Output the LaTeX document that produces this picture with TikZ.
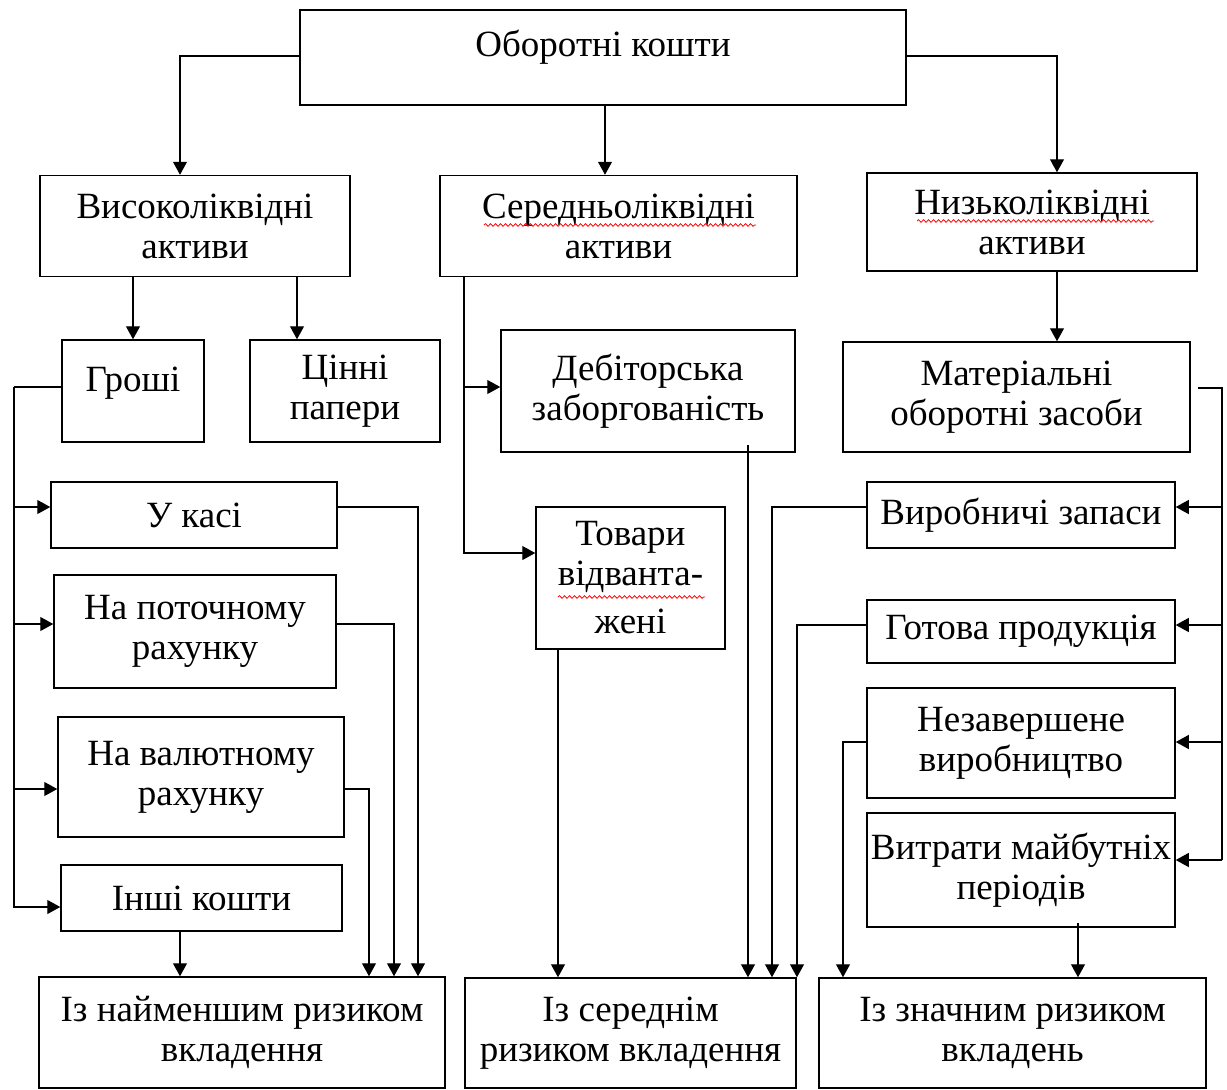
\documentclass[tikz,border=0pt]{standalone}
\usepackage{fontspec}
\setmainfont{Liberation Serif}
\usetikzlibrary{arrows.meta,decorations.pathmorphing}
\begin{document}
\begin{tikzpicture}[x=1pt,y=-1pt,
  box/.style={draw, line width=1.5pt, inner sep=0pt, align=center,
    font=\fontsize{37}{40}\selectfont},
  arr/.style={line width=1.2pt, -{Triangle[length=13pt,width=14pt]}},
  ln/.style={line width=1.2pt},
  wavy/.style={red, line width=0.8pt, decorate,
    decoration={snake, amplitude=1.3pt, segment length=5pt}}]
\useasboundingbox (0,0) rectangle (1227,1090);
% boxes
\node[box, minimum width=606, minimum height=95] (obor) at (603,57.5) {Оборотні кошти\\[-24pt]\strut};
\node[box, minimum width=310, minimum height=101] (viso) at (195,226) {Високоліквідні\\активи};
\node[box, minimum width=357, minimum height=101] (sered) at (618.5,226) {Середньоліквідні\\активи};
\node[box, minimum width=330, minimum height=98] (nyzko) at (1032,222) {Низьколіквідні\\активи};
\node[box, minimum width=142, minimum height=102] (groshi) at (133,391) {Гроші\\[-28pt]\strut};
\node[box, minimum width=190, minimum height=102] (cinni) at (345,391) {Цінні\\папери};
\node[box, minimum width=294, minimum height=122] (debit) at (648,391) {Дебіторська\\заборгованість};
\node[box, minimum width=347, minimum height=110] (mater) at (1016.5,397) {Матеріальні\\оборотні засоби};
\node[box, minimum width=286, minimum height=66] (kasa) at (194,515) {У касі};
\node[box, minimum width=282, minimum height=113] (potoch) at (195,631.5) {На поточному\\рахунку};
\node[box, minimum width=286, minimum height=120] (valut) at (201,777) {На валютному\\рахунку};
\node[box, minimum width=281, minimum height=66] (inshi) at (201.5,898) {Інші кошти};
\node[box, minimum width=189, minimum height=142] (tovary) at (630.5,578) {Товари\\відванта-\\[8pt]жені};
\node[box, minimum width=308, minimum height=66] (vyrob) at (1021,515) {Виробничі запаси};
\node[box, minimum width=308, minimum height=63] (gotova) at (1021,631.5) {Готова продукція};
\node[box, minimum width=308, minimum height=110] (nezav) at (1021,743) {Незавершене\\виробництво};
\node[box, minimum width=308, minimum height=114] (vytraty) at (1021,870) {Витрати майбутніх\\періодів};
\node[box, minimum width=406, minimum height=111] (low) at (242,1032.5) {Із найменшим ризиком\\вкладення};
\node[box, minimum width=331, minimum height=110] (mid) at (630.5,1033) {Із середнім\\ризиком вкладення};
\node[box, minimum width=387, minimum height=110] (high) at (1012.5,1033) {Із значним ризиком\\вкладень};
% spell-check underlines
\draw[wavy] (484,225) -- (756,225);
\draw[wavy] (917,221) -- (1154,221);
\draw[wavy] (558,597) -- (705,597);
% top level
\draw[arr] (obor.west |- 0,56) -| (viso.north -| 180,0);
\draw[arr] (obor.south -| 605,0) -- (sered.north -| 605,0);
\draw[arr] (obor.east |- 0,56) -| (nyzko.north -| 1057,0);
\draw[arr] (viso.south -| 133,0) -- (groshi.north -| 133,0);
\draw[arr] (viso.south -| 297,0) -- (cinni.north -| 297,0);
\draw[arr] (nyzko.south -| 1057,0) -- (mater.north -| 1057,0);
% money branch
\coordinate (gl) at (14,387);
\draw[ln] (groshi.west |- gl) -- (gl);
\draw[arr] (gl) |- (inshi.west |- 0,907);
\draw[arr] (gl |- 0,507) -- (kasa.west |- 0,507);
\draw[arr] (gl |- 0,624) -- (potoch.west |- 0,624);
\draw[arr] (gl |- 0,789) -- (valut.west |- 0,789);
\draw[arr] (kasa.east |- 0,507) -| (low.north -| 418,0);
\draw[arr] (potoch.east |- 0,624) -| (low.north -| 394,0);
\draw[arr] (valut.east |- 0,789) -| (low.north -| 369,0);
\draw[arr] (inshi.south -| 180,0) -- (low.north -| 180,0);
% middle branch
\coordinate (sj) at (464,387);
\draw[arr] (sered.south -| 464,0) |- (tovary.west |- 0,553);
\draw[arr] (sj) -- (debit.west |- sj);
\draw[arr] (tovary.south -| 558,0) -- (mid.north -| 558,0);
\draw[arr] ([yshift=8pt]debit.south -| 748,0) -- (mid.north -| 748,0);
\draw[arr] (vyrob.west |- 0,507) -| (mid.north -| 772,0);
\draw[arr] (gotova.west |- 0,625) -| (mid.north -| 797,0);
% right branch
\coordinate (mr) at (1222,388);
\coordinate (mb) at (1222,860);
\draw[ln] ([xshift=7pt]mater.east |- mr) -- (mr) -- (mb);
\draw[arr] (mr |- 0,507) -- (vyrob.east |- 0,507);
\draw[arr] (mr |- 0,625) -- (gotova.east |- 0,625);
\draw[arr] (mr |- 0,742) -- (nezav.east |- 0,742);
\draw[arr] (mb) -- (vytraty.east |- mb);
\draw[arr] (nezav.west |- 0,742) -| (high.north -| 843,0);
\draw[arr] ([yshift=5pt]vytraty.south -| 1078,0) -- (high.north -| 1078,0);
\end{tikzpicture}
\end{document}
